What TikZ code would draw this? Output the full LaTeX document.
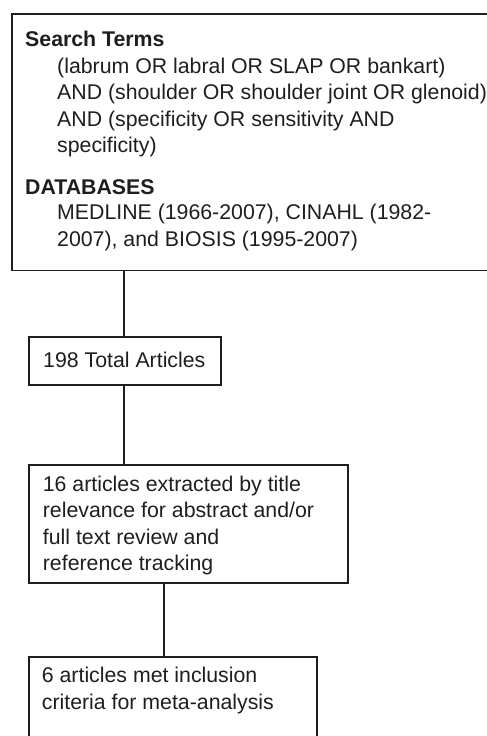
\documentclass[tikz,border=0pt]{standalone}
\usepackage{fontspec}
\setmainfont{Liberation Sans}
\definecolor{ink}{HTML}{1E1E1E}
\begin{document}
\begin{tikzpicture}[x=1pt,y=-1pt,
  box/.style={draw=ink, line width=1.8pt, rectangle, inner sep=0pt, anchor=north west},
  txt/.style={anchor=base west, inner sep=0pt, text=ink, font=\fontsize{21.3}{26.5}\selectfont},
  hd/.style={txt, font=\fontsize{21.3}{26.5}\selectfont\bfseries},
  link/.style={draw=ink, line width=1.8pt}]
\useasboundingbox (0,0) rectangle (487,736);
\clip (0,0) rectangle (487,736);
% boxes
\node[box, minimum width=484pt, minimum height=256.8pt] (search) at (11,12.7) {};
\node[box, minimum width=192.6pt, minimum height=48.6pt] (total) at (27.7,335.7) {};
\node[box, minimum width=319.6pt, minimum height=118.6pt] (extract) at (27.7,463.7) {};
\node[box, minimum width=288.3pt, minimum height=110pt] (met) at (27.7,656) {};
% texts
\node[hd] (t1) at (25,46.5) {Search Terms};
\node[txt] (t2) at (57,73) {(labrum OR labral OR SLAP OR bankart)};
\node[txt] (t3) at (57,99.5) {AND (shoulder OR shoulder joint OR glenoid)};
\node[txt] (t4) at (57,126) {AND (specificity OR sensitivity AND};
\node[txt] (t5) at (57,152.5) {specificity)};
\node[hd] (t6) at (25,194.3) {DATABASES};
\node[txt] (t7) at (57,219.5) {MEDLINE (1966-2007), CINAHL (1982-};
\node[txt] (t8) at (57,246) {2007), and BIOSIS (1995-2007)};
\node[txt] (t9) at (43,367.3) {198 Total Articles};
\node[txt] (t10) at (42.7,491) {16 articles extracted by title};
\node[txt] (t11) at (42.7,517.5) {relevance for abstract and/or};
\node[txt] (t12) at (42.7,544) {full text review and};
\node[txt] (t13) at (42.7,570.5) {reference tracking};
\node[txt] (t14) at (41.7,682.7) {6 articles met inclusion};
\node[txt] (t15) at (41.7,709.3) {criteria for meta-analysis};
% connectors
\coordinate (c1) at (124,0);
\coordinate (c3) at (163.7,0);
\draw[link] (search.south -| c1) -- (total.north -| c1);
\draw[link] (total.south -| c1) -- (extract.north -| c1);
\draw[link] (extract.south -| c3) -- (met.north -| c3);
\end{tikzpicture}
\end{document}
